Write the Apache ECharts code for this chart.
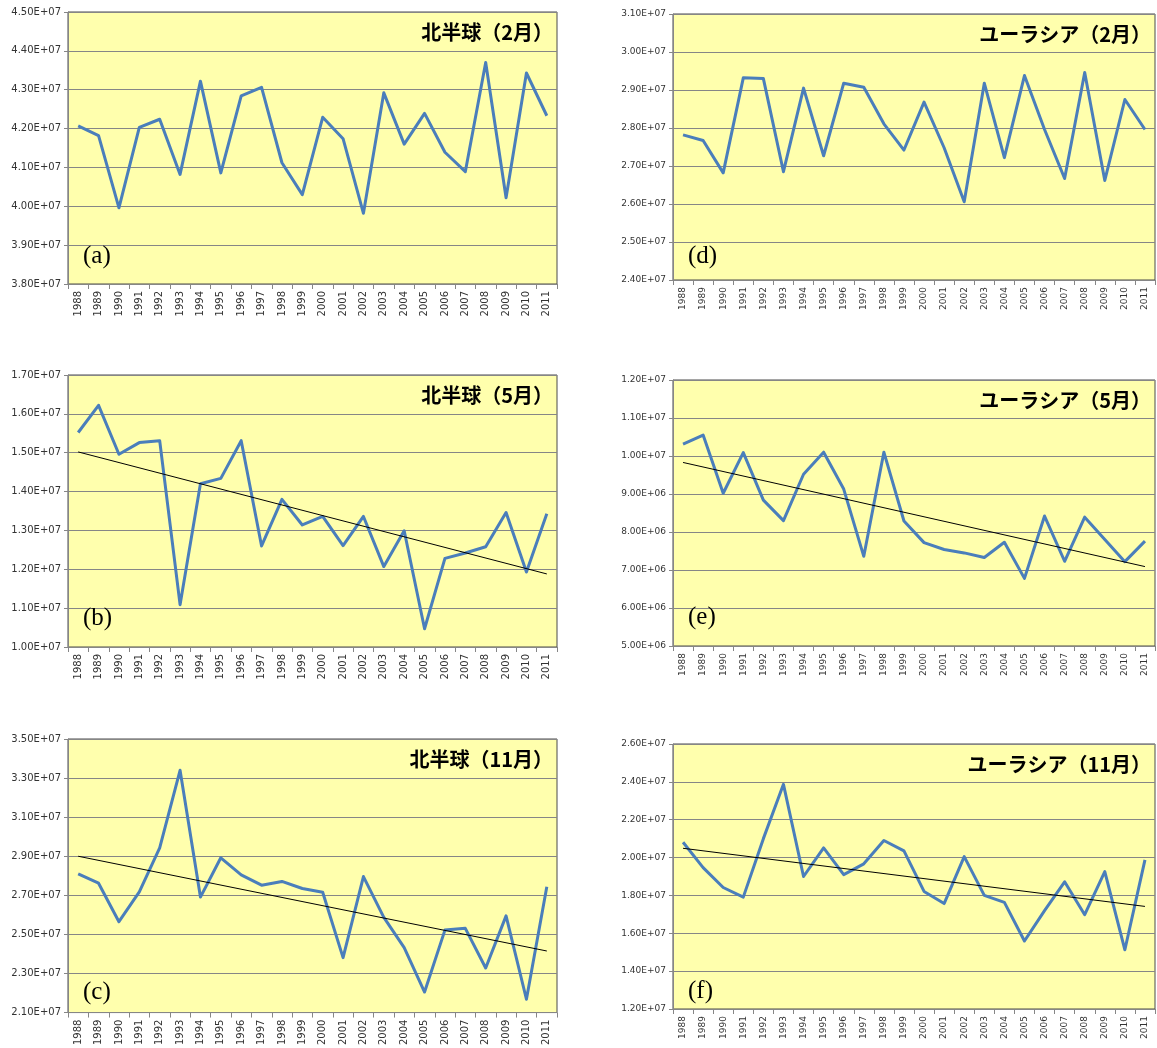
<!DOCTYPE html>
<html>
<head>
<meta charset="utf-8">
<script src="https://cdn.jsdelivr.net/npm/echarts@6/dist/echarts.min.js"></script>
<style>
  html, body { margin: 0; padding: 0; background: #ffffff; }
  #chart { width: 1157px; height: 1048px; }
</style>
</head>
<body>
<div id="chart"></div>
<script>
// Years on the category axis
const years = ['1988', '1989', '1990', '1991', '1992', '1993', '1994', '1995', '1996', '1997', '1998', '1999',
               '2000', '2001', '2002', '2003', '2004', '2005', '2006', '2007', '2008', '2009', '2010', '2011'];

// Northern Hemisphere (北半球)
const nhFeb = [4.207e7, 4.182e7, 3.996e7, 4.203e7, 4.224e7, 4.082e7, 4.322e7, 4.086e7, 4.284e7, 4.306e7, 4.112e7, 4.030e7,
               4.229e7, 4.174e7, 3.982e7, 4.292e7, 4.160e7, 4.239e7, 4.139e7, 4.089e7, 4.370e7, 4.022e7, 4.343e7, 4.233e7];
const nhMay = [1.552e7, 1.622e7, 1.496e7, 1.526e7, 1.531e7, 1.109e7, 1.420e7, 1.434e7, 1.531e7, 1.260e7, 1.380e7, 1.314e7,
               1.336e7, 1.261e7, 1.336e7, 1.207e7, 1.299e7, 1.047e7, 1.228e7, 1.242e7, 1.258e7, 1.346e7, 1.193e7, 1.343e7];
const nhNov = [2.810e7, 2.762e7, 2.565e7, 2.718e7, 2.943e7, 3.340e7, 2.691e7, 2.892e7, 2.805e7, 2.752e7, 2.771e7, 2.735e7,
               2.716e7, 2.381e7, 2.796e7, 2.587e7, 2.432e7, 2.205e7, 2.522e7, 2.531e7, 2.328e7, 2.595e7, 2.168e7, 2.744e7];

// Eurasia (ユーラシア)
const euFeb = [2.782e7, 2.767e7, 2.682e7, 2.932e7, 2.930e7, 2.685e7, 2.905e7, 2.727e7, 2.918e7, 2.907e7, 2.811e7, 2.742e7,
               2.868e7, 2.748e7, 2.606e7, 2.918e7, 2.722e7, 2.938e7, 2.796e7, 2.667e7, 2.946e7, 2.662e7, 2.875e7, 2.796e7];
const euMay = [10.31e6, 10.55e6, 9.02e6, 10.09e6, 8.84e6, 8.30e6, 9.52e6, 10.10e6, 9.13e6, 7.36e6, 10.10e6, 8.29e6,
               7.72e6, 7.54e6, 7.45e6, 7.33e6, 7.73e6, 6.78e6, 8.42e6, 7.23e6, 8.39e6, 7.80e6, 7.22e6, 7.76e6];
const euNov = [2.081e7, 1.947e7, 1.842e7, 1.791e7, 2.100e7, 2.387e7, 1.900e7, 2.051e7, 1.910e7, 1.967e7, 2.090e7, 2.035e7,
               1.821e7, 1.757e7, 2.005e7, 1.800e7, 1.763e7, 1.559e7, 1.720e7, 1.872e7, 1.698e7, 1.926e7, 1.513e7, 1.988e7];

// Linear trend lines: value at 1988 and at 2011
const nhMayTrend = [1.502e7, 1.188e7];
const nhNovTrend = [2.900e7, 2.415e7];
const euMayTrend = [9.83e6, 7.09e6];
const euNovTrend = [2.049e7, 1.742e7];

// Value-axis tick labels
const nhFebTicks = [3.8e7, 3.9e7, 4.0e7, 4.1e7, 4.2e7, 4.3e7, 4.4e7, 4.5e7];
const nhMayTicks = [1.0e7, 1.1e7, 1.2e7, 1.3e7, 1.4e7, 1.5e7, 1.6e7, 1.7e7];
const nhNovTicks = [2.1e7, 2.3e7, 2.5e7, 2.7e7, 2.9e7, 3.1e7, 3.3e7, 3.5e7];
const euFebTicks = [2.4e7, 2.5e7, 2.6e7, 2.7e7, 2.8e7, 2.9e7, 3.0e7, 3.1e7];
const euMayTicks = [5e6, 6e6, 7e6, 8e6, 9e6, 1.0e7, 1.1e7, 1.2e7];
const euNovTicks = [1.2e7, 1.4e7, 1.6e7, 1.8e7, 2.0e7, 2.2e7, 2.4e7, 2.6e7];

// Panel layout: [left, top, width, height] of each plot area, plus tag placement
const panels = [
  { title: '北半球（2月）',       tag: '(a)', values: nhFeb, trend: null,       ticks: nhFebTicks, box: [68, 12, 489, 272],  tagY: 256, fs: 10 },
  { title: '北半球（5月）',       tag: '(b)', values: nhMay, trend: nhMayTrend, ticks: nhMayTicks, box: [68, 375, 489, 272], tagY: 618, fs: 10 },
  { title: '北半球（11月）',      tag: '(c)', values: nhNov, trend: nhNovTrend, ticks: nhNovTicks, box: [68, 739, 489, 274], tagY: 992, fs: 10 },
  { title: 'ユーラシア（2月）',   tag: '(d)', values: euFeb, trend: null,       ticks: euFebTicks, box: [673, 14, 482, 266],  tagY: 256, fs: 9 },
  { title: 'ユーラシア（5月）',   tag: '(e)', values: euMay, trend: euMayTrend, ticks: euMayTicks, box: [673, 380, 482, 266], tagY: 617, fs: 9 },
  { title: 'ユーラシア（11月）',  tag: '(f)', values: euNov, trend: euNovTrend, ticks: euNovTicks, box: [673, 744, 482, 265], tagY: 991, fs: 9 }
];

// Spreadsheet-style scientific notation, e.g. 4.50E+07
function sci(v) {
  const parts = Number(v).toExponential(2).split('e');
  const sign = parts[1][0];
  const digits = parts[1].slice(1).padStart(2, '0');
  return parts[0] + 'E' + sign + digits;
}

const AXIS_GRAY = '#868686';
const grids = [], xAxes = [], yAxes = [], series = [], graphics = [];

panels.forEach((p, i) => {
  const [left, top, width, height] = p.box;
  grids.push({
    left: left, top: top, width: width, height: height,
    show: true, backgroundColor: '#FFFFAD', borderColor: '#4a4a4a', borderWidth: 1
  });
  xAxes.push({
    gridIndex: i, type: 'category', data: years, boundaryGap: true,
    axisLine: { show: true, lineStyle: { color: AXIS_GRAY, width: 1 } },
    axisTick: { show: true, length: 5, interval: 0, lineStyle: { color: AXIS_GRAY } },
    axisLabel: { interval: 0, rotate: 90, margin: 7, fontSize: p.fs, color: '#333333', fontFamily: 'DejaVu Sans' },
    splitLine: { show: false }
  });
  yAxes.push({
    gridIndex: i, type: 'value',
    min: p.ticks[0], max: p.ticks[p.ticks.length - 1], interval: 1e6,
    axisLine: { show: true, lineStyle: { color: AXIS_GRAY, width: 1 } },
    axisTick: { show: true, length: 4, customValues: p.ticks, lineStyle: { color: AXIS_GRAY } },
    axisLabel: { customValues: p.ticks, formatter: sci, margin: 7, fontSize: p.fs, color: '#333333', fontFamily: 'DejaVu Sans' },
    splitLine: { show: true, lineStyle: { color: AXIS_GRAY, width: 1 } }
  });
  series.push({
    type: 'line', xAxisIndex: i, yAxisIndex: i, data: p.values,
    symbol: 'none', z: 3,
    lineStyle: { color: '#4A7EBB', width: 3, join: 'round' }
  });
  if (p.trend) {
    series.push({
      type: 'line', xAxisIndex: i, yAxisIndex: i,
      data: [[years[0], p.trend[0]], [years[years.length - 1], p.trend[1]]],
      symbol: 'none', z: 4,
      lineStyle: { color: '#000000', width: 1 }
    });
  }
  graphics.push({
    type: 'text', x: left + width - 4, y: top + 20, z: 10,
    style: {
      text: p.title, fill: '#000000', textAlign: 'right', textVerticalAlign: 'middle',
      font: 'bold 20px "Noto Sans CJK JP"'
    }
  });
  graphics.push({
    type: 'text', x: left + 15, y: p.tagY, z: 10,
    style: {
      text: p.tag, fill: '#000000', textAlign: 'left', textVerticalAlign: 'middle',
      font: '25px "Liberation Serif"'
    }
  });
});

const chart = echarts.init(document.getElementById('chart'), null, { renderer: 'canvas' });
chart.setOption({
  animation: false,
  backgroundColor: '#ffffff',
  grid: grids,
  xAxis: xAxes,
  yAxis: yAxes,
  series: series,
  graphic: graphics
});
</script>
</body>
</html>
